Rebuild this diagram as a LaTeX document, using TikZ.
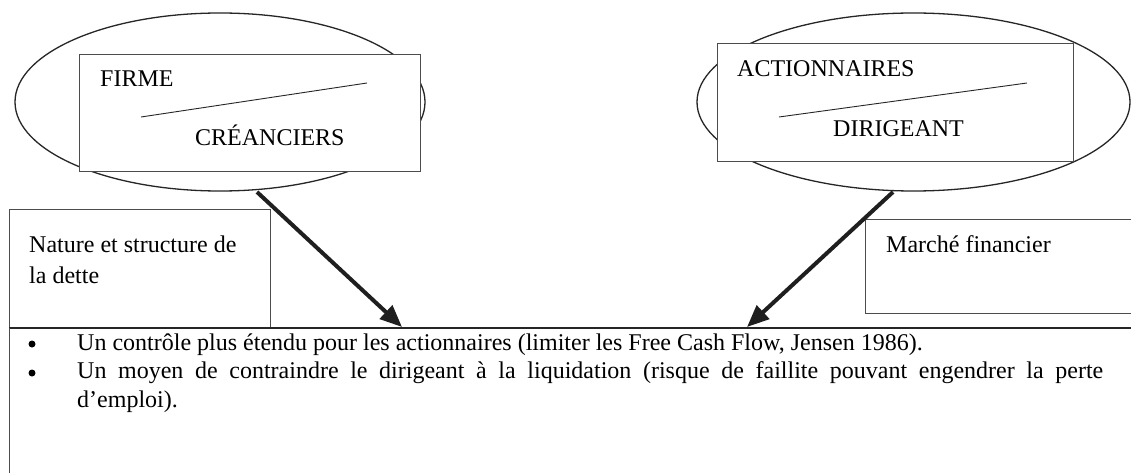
\documentclass[tikz,border=0pt]{standalone}
\usepackage{fontspec}
\setmainfont{Liberation Serif}
\usetikzlibrary{shapes.geometric,arrows.meta}
\begin{document}
\begin{tikzpicture}[x=1pt,y=-1pt,
  txt/.style={anchor=base west,inner sep=0pt,font=\fontsize{24}{28}\selectfont},
  ell/.style={ellipse,draw=black!85,line width=1.3pt,inner sep=0pt},
  box/.style={draw=black!70,line width=0.9pt,fill=white,inner sep=0pt,anchor=north west},
  slash/.style={draw=black!85,line width=0.9pt},
  bigarrow/.style={draw=black!88,line width=4pt,-{Triangle[length=22pt,width=18pt]}},
  dot/.style={circle,fill=black,inner sep=0pt,minimum size=7pt}]
\fill[white] (0,0) rectangle (1131,473);
\useasboundingbox (0,0) rectangle (1131,473);
% ellipses
\node[ell,minimum width=410pt,minimum height=178pt] (ellL) at (220,102) {};
\node[ell,minimum width=433pt,minimum height=178pt] (ellR) at (913.5,102) {};
% inner boxes
\node[box,minimum width=341pt,minimum height=117pt] (rectL) at (79,54) {};
\node[box,minimum width=356pt,minimum height=118pt] (rectR) at (717,43) {};
% texts in boxes
\node[txt] (firme) at (100,87) {FIRME};
\node[txt] (cre) at (195,146) {CRÉANCIERS};
\coordinate (sl1a) at (141,117); \coordinate (sl1b) at (367,83);
\draw[slash] (sl1a) -- (sl1b);
\node[txt] (act) at (737,77) {ACTIONNAIRES};
\node[txt] (dir) at (833,137) {DIRIGEANT};
\coordinate (sl2a) at (779,117); \coordinate (sl2b) at (1027,83);
\draw[slash] (sl2a) -- (sl2b);
% lower left box
\node[box,minimum width=261pt,minimum height=119pt] (nat) at (9,209) {};
\node[txt] (nat1) at (29,252) {Nature et structure de};
\node[txt] (nat2) at (29,283) {la dette};
% lower right box
\coordinate (m1) at (1131,219); \coordinate (m2) at (865,219);
\coordinate (m3) at (865,313); \coordinate (m4) at (1131,313);
\draw[draw=black!70,line width=0.9pt] (m1) -- (m2) -- (m3) -- (m4);
\node[txt] (mar) at (886,252) {Marché financier};
% bottom frame
\coordinate (fTL) at (9,328); \coordinate (fTR) at (1131,328); \coordinate (fBL) at (9,473);
\draw[draw=black!85,line width=1.5pt] (fTL) -- (fTR);
\draw[draw=black!70,line width=0.9pt] (fTL) -- (fBL);
% bullets
\node[dot] (d1) at (32,344) {};
\node[dot] (d2) at (32,373) {};
\node[txt] (l1) at (77,350) {Un contrôle plus étendu pour les actionnaires (limiter les Free Cash Flow, Jensen 1986).};
\node[txt] (l2) at (77,378) {\makebox[1026pt][s]{Un moyen de contraindre le dirigeant à la liquidation (risque de faillite pouvant engendrer la perte}};
\node[txt] (l3) at (77,407) {d’emploi).};
% arrows
\coordinate (tipL) at (402,327);
\coordinate (tipR) at (747,327);
\coordinate (stL) at (257,192);
\coordinate (stR) at (893,192);
\draw[bigarrow] (stL) -- (tipL);
\draw[bigarrow] (stR) -- (tipR);
\end{tikzpicture}
\end{document}
